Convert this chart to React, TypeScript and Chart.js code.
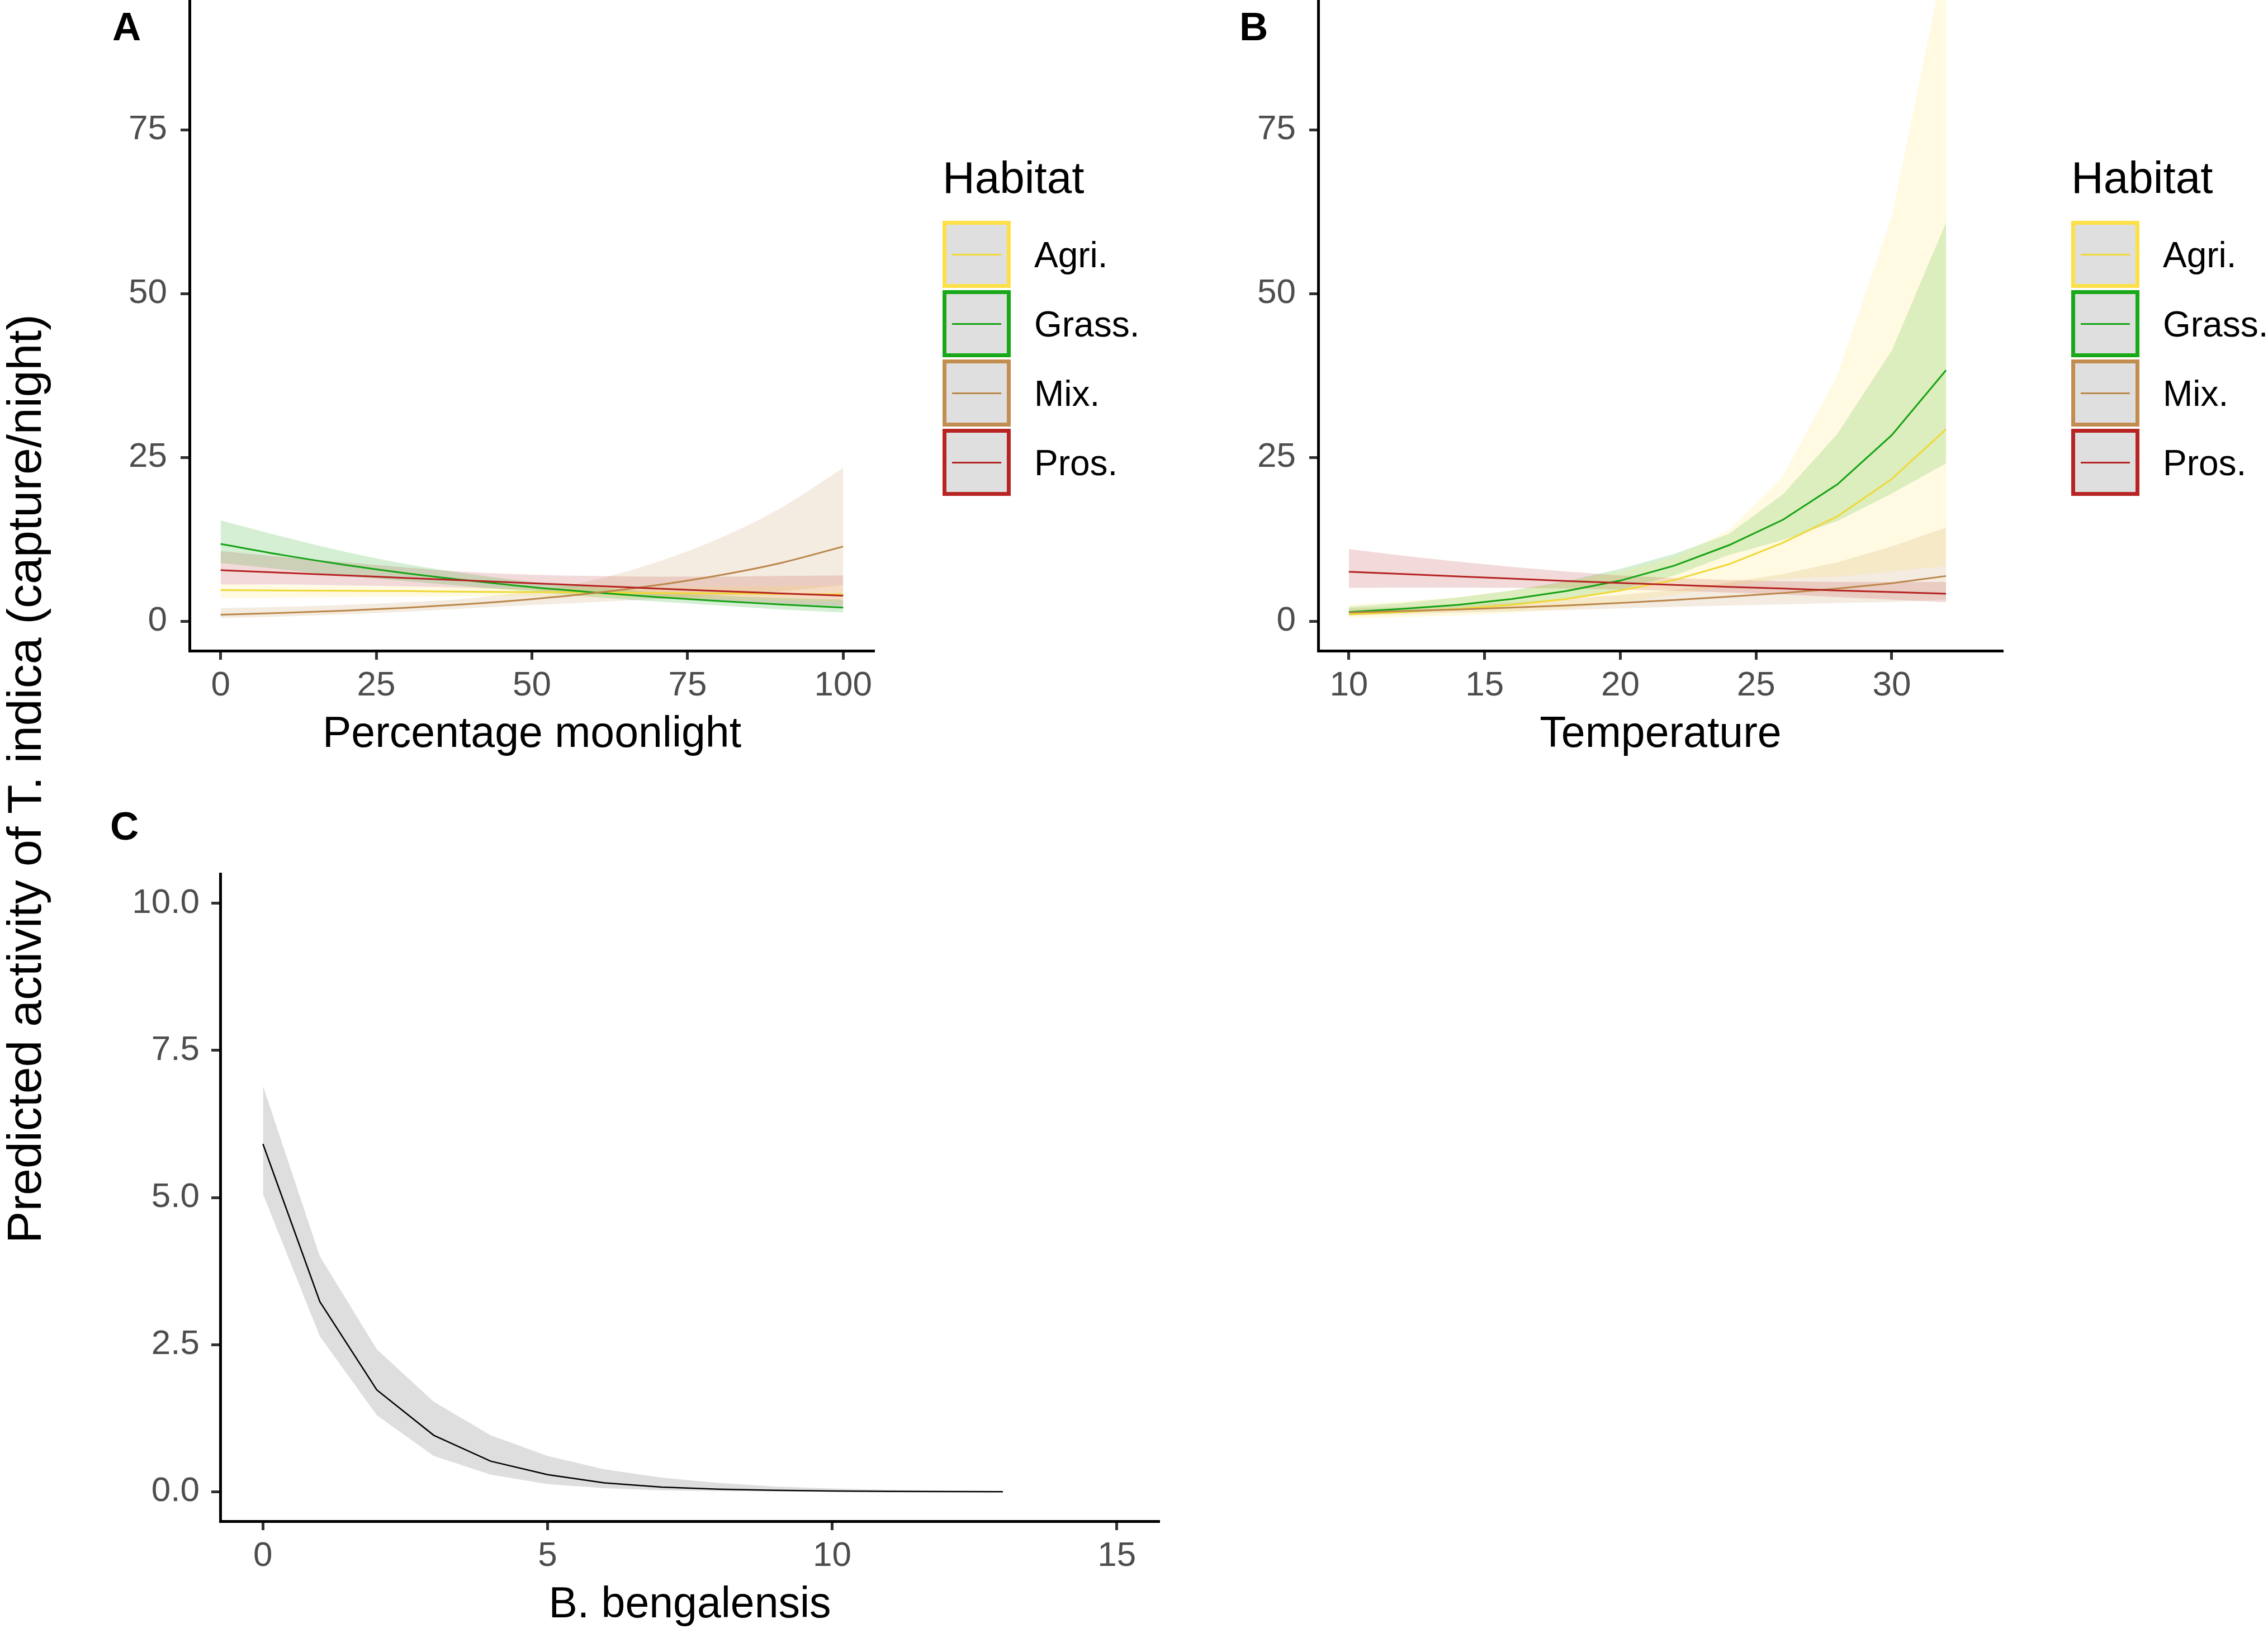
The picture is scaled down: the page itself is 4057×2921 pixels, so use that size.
import { useEffect, useRef } from 'react';
import { Chart, registerables } from 'chart.js';

Chart.register(...registerables);

const FONT = '"Liberation Sans", Arial, Helvetica, sans-serif';

// habitat groups used in panels A and B
const HABITATS = ['Agri.', 'Grass.', 'Mix.', 'Pros.'];
const LINE_COLORS = ['#F0D835', '#14A314', '#BB874A', '#B52222'];
const KEY_COLORS = ['#FDE047', '#18A818', '#C38D50', '#B82424'];
const RIBBON_COLORS = [
  'rgba(253,224,70,0.16)',
  'rgba(22,165,22,0.18)',
  'rgba(192,138,76,0.17)',
  'rgba(184,34,34,0.17)',
];

// panel A: percentage moonlight
const MOON_X = [0, 10, 20, 30, 40, 50, 60, 70, 80, 90, 100];
const MOON_AGRI = [4.75, 4.7, 4.65, 4.6, 4.5, 4.45, 4.4, 4.3, 4.25, 4.15, 4.1];
const MOON_AGRI_LO = [3.5, 3.6, 3.7, 3.75, 3.8, 3.8, 3.7, 3.55, 3.4, 3.2, 3.0];
const MOON_AGRI_HI = [5.6, 5.5, 5.4, 5.3, 5.2, 5.15, 5.15, 5.2, 5.3, 5.4, 5.5];
const MOON_GRASS = [11.8, 10.1, 8.6, 7.3, 6.2, 5.2, 4.4, 3.7, 3.1, 2.55, 2.1];
const MOON_GRASS_LO = [8.9, 7.9, 6.9, 6.1, 5.3, 4.5, 3.7, 3.0, 2.4, 1.8, 1.35];
const MOON_GRASS_HI = [15.4, 12.9, 10.6, 8.7, 7.2, 6.0, 5.2, 4.4, 3.9, 3.55, 3.3];
const MOON_MIX = [1.0, 1.27, 1.63, 2.07, 2.64, 3.37, 4.3, 5.5, 7.0, 8.9, 11.4];
const MOON_MIX_LO = [0.5, 0.73, 1.06, 1.48, 1.99, 2.47, 2.93, 3.36, 3.89, 4.58, 5.55];
const MOON_MIX_HI = [2.0, 2.2, 2.5, 2.9, 3.5, 4.6, 6.3, 9.0, 12.6, 17.3, 23.4];
const MOON_PROS = [7.8, 7.4, 7.0, 6.6, 6.2, 5.8, 5.4, 5.0, 4.6, 4.25, 3.9];
const MOON_PROS_LO = [5.6, 5.6, 5.45, 5.3, 5.1, 4.75, 4.25, 3.7, 3.1, 2.65, 2.3];
const MOON_PROS_HI = [10.7, 9.8, 9.0, 8.2, 7.5, 7.1, 6.9, 6.8, 6.8, 6.9, 7.0];

// panel B: temperature
const TEMP_X = [10, 12, 14, 16, 18, 20, 22, 24, 26, 28, 30, 32];
const TEMP_AGRI = [1.05, 1.4, 1.9, 2.5, 3.4, 4.7, 6.3, 8.7, 12.0, 16.0, 21.7, 29.3];
const TEMP_AGRI_LO = [0.44, 0.65, 0.88, 1.33, 1.9, 2.9, 4.05, 5.4, 6.5, 6.8, 7.6, 8.4];
const TEMP_AGRI_HI = [2.5, 3.0, 3.7, 4.7, 6.0, 7.6, 9.8, 13.9, 22.2, 37.5, 61.7, 102];
const TEMP_GRASS = [1.4, 1.9, 2.5, 3.4, 4.6, 6.2, 8.5, 11.6, 15.5, 20.9, 28.4, 38.3];
const TEMP_GRASS_LO = [0.9, 1.29, 1.74, 2.5, 3.5, 4.8, 7.0, 10.1, 12.4, 15.3, 19.5, 24.1];
const TEMP_GRASS_HI = [2.2, 2.8, 3.6, 4.7, 6.1, 8.0, 10.3, 13.3, 19.4, 28.6, 41.3, 60.8];
const TEMP_MIX = [1.33, 1.55, 1.8, 2.1, 2.4, 2.8, 3.25, 3.75, 4.3, 5.0, 5.8, 6.9];
const TEMP_MIX_LO = [0.88, 1.09, 1.3, 1.52, 1.7, 1.96, 2.2, 2.4, 2.57, 2.8, 2.95, 3.3];
const TEMP_MIX_HI = [2.0, 2.2, 2.5, 2.9, 3.4, 4.0, 4.8, 5.9, 7.2, 9.0, 11.4, 14.3];
const TEMP_PROS = [7.55, 7.2, 6.85, 6.5, 6.15, 5.85, 5.55, 5.25, 5.0, 4.7, 4.45, 4.2];
const TEMP_PROS_LO = [5.1, 5.15, 5.15, 5.1, 5.0, 4.85, 4.65, 4.4, 4.1, 3.7, 3.3, 2.9];
const TEMP_PROS_HI = [11.0, 10.0, 9.1, 8.3, 7.6, 7.0, 6.6, 6.3, 6.1, 6.0, 6.0, 6.0];

// panel C: B. bengalensis
const BENG_X = [0, 1, 2, 3, 4, 5, 6, 7, 8, 9, 10, 11, 12, 13];
const BENG_FIT = [5.91, 3.23, 1.73, 0.96, 0.52, 0.29, 0.15, 0.08, 0.045, 0.025, 0.013, 0.007, 0.004, 0.002];
const BENG_LO = [5.06, 2.64, 1.3, 0.61, 0.29, 0.13, 0.06, 0.025, 0.01, 0.005, 0.002, 0.001, 0.0005, 0.0002];
const BENG_HI = [6.9, 4.0, 2.42, 1.53, 0.96, 0.61, 0.38, 0.24, 0.15, 0.09, 0.055, 0.035, 0.02, 0.012];

// tick labels
const MOON_TICKS = [0, 25, 50, 75, 100];
const TEMP_TICKS = [10, 15, 20, 25, 30];
const BENG_TICKS = [0, 5, 10, 15];
const ACTIVITY_TICKS = [0, 25, 50, 75];
const BENG_Y_TICKS = [0, 2.5, 5, 7.5, 10];

const pts = (xs: number[], ys: number[]) => xs.map((x, i) => ({ x, y: ys[i] }));

function habitatSets(xs: number[], fits: number[][], los: number[][], his: number[][], smooth: boolean) {
  const mode = smooth ? 'monotone' : 'default';
  const sets: any[] = [];
  HABITATS.forEach((name, g) => {
    const lo = sets.length;
    sets.push({
      label: name + ' lower', data: pts(xs, los[g]), borderWidth: 0,
      borderColor: 'rgba(0,0,0,0)', fill: false, cubicInterpolationMode: mode, order: 20,
    });
    sets.push({
      label: name + ' upper', data: pts(xs, his[g]), borderWidth: 0,
      borderColor: 'rgba(0,0,0,0)', backgroundColor: RIBBON_COLORS[g], fill: lo,
      cubicInterpolationMode: mode, order: 20,
    });
  });
  HABITATS.forEach((name, g) => {
    sets.push({
      label: name, data: pts(xs, fits[g]), borderColor: LINE_COLORS[g], borderWidth: 3,
      fill: false, cubicInterpolationMode: mode, order: 10 - g,
    });
  });
  return sets;
}

function bengSets() {
  return [
    { label: 'lower', data: pts(BENG_X, BENG_LO), borderWidth: 0, borderColor: 'rgba(0,0,0,0)', fill: false, order: 20 },
    { label: 'upper', data: pts(BENG_X, BENG_HI), borderWidth: 0, borderColor: 'rgba(0,0,0,0)', backgroundColor: 'rgba(0,0,0,0.13)', fill: 0, order: 20 },
    { label: 'fit', data: pts(BENG_X, BENG_FIT), borderColor: '#000000', borderWidth: 2.5, fill: false, order: 1 },
  ];
}

interface PanelProps {
  left: number; top: number; width: number; height: number;
  yWidth: number; xHeight: number; padTop: number; padRight: number;
  xMin: number; xMax: number; xTicks: number[]; xTitle: string;
  yMin: number; yMax: number; yTicks: number[]; yFmt: (v: number) => string; yPad: number;
  datasets: () => any[];
}

function Panel(p: PanelProps) {
  const canvasRef = useRef<HTMLCanvasElement>(null);

  useEffect(() => {
    if (!canvasRef.current) return;
    const axisCommon = {
      grid: { display: true, drawOnChartArea: false, drawTicks: true, tickLength: 16, tickWidth: 5, tickColor: '#333333' },
      border: { display: true, color: '#000000', width: 5 },
    };
    const chart = new Chart(canvasRef.current, {
      type: 'line',
      data: { datasets: p.datasets() },
      options: {
        responsive: true,
        maintainAspectRatio: false,
        animation: false,
        layout: { padding: { top: p.padTop, right: p.padRight, bottom: 0, left: 0 } },
        elements: { point: { radius: 0 } },
        plugins: {
          legend: { display: false },
          tooltip: { enabled: false },
          filler: { drawTime: 'beforeDatasetsDraw' },
        } as any,
        scales: {
          x: {
            type: 'linear',
            min: p.xMin,
            max: p.xMax,
            ...axisCommon,
            afterBuildTicks: (s: any) => { s.ticks = p.xTicks.map((v) => ({ value: v })); },
            afterFit: (s: any) => { s.height = p.xHeight; s.paddingLeft = 0; s.paddingRight = 0; },
            ticks: {
              autoSkip: false, maxRotation: 0, padding: 10, color: '#4D4D4D',
              font: { family: FONT, size: 62 },
              callback: (v: any) => String(v),
            },
            title: { display: true, text: p.xTitle, color: '#000000', padding: 0, font: { family: FONT, size: 77 } },
          },
          y: {
            type: 'linear',
            min: p.yMin,
            max: p.yMax,
            ...axisCommon,
            afterBuildTicks: (s: any) => { s.ticks = p.yTicks.map((v) => ({ value: v })); },
            afterFit: (s: any) => { s.width = p.yWidth; s.paddingTop = 0; s.paddingBottom = 0; },
            ticks: {
              autoSkip: false, padding: p.yPad, color: '#4D4D4D',
              font: { family: FONT, size: 62 },
              callback: (v: any) => p.yFmt(Number(v)),
            },
          },
        },
      } as any,
    });
    return () => chart.destroy();
  }, []);

  return (
    <div style={{ position: 'absolute', left: p.left, top: p.top, width: p.width, height: p.height }}>
      <canvas ref={canvasRef} />
    </div>
  );
}

function HabitatLegend({ left }: { left: number }) {
  return (
    <>
      <div style={{ position: 'absolute', left, top: 278, fontSize: 80, lineHeight: 1, whiteSpace: 'nowrap' }}>Habitat</div>
      {HABITATS.map((h, i) => (
        <div key={h}>
          <div
            style={{
              position: 'absolute', left, top: 395 + i * 124, width: 122, height: 120,
              boxSizing: 'border-box', border: `7px solid ${KEY_COLORS[i]}`, background: '#DFDFDF',
            }}
          >
            <div style={{ position: 'absolute', left: 10, right: 10, top: 52, height: 3, background: LINE_COLORS[i] }} />
          </div>
          <div style={{ position: 'absolute', left: left + 164, top: 455 + i * 124 - 31, fontSize: 64, lineHeight: 1, whiteSpace: 'nowrap' }}>
            {h}
          </div>
        </div>
      ))}
    </>
  );
}

const letter = (text: string, left: number, top: number) => (
  <div style={{ position: 'absolute', left, top, fontSize: 71, fontWeight: 'bold', lineHeight: 1 }}>{text}</div>
);

export default function App() {
  const intFmt = (v: number) => String(v);
  return (
    <div
      style={{
        position: 'absolute', left: 0, top: 0, width: 4057, height: 2921, overflow: 'hidden',
        background: '#ffffff', fontFamily: FONT, color: '#000000',
      }}
    >
      <Panel
        left={150} top={0} width={1470} height={1361} yWidth={189} xHeight={197} padTop={0} padRight={56}
        xMin={-5} xMax={105} xTicks={MOON_TICKS} xTitle="Percentage moonlight"
        yMin={-4.5} yMax={94.8} yTicks={ACTIVITY_TICKS} yFmt={intFmt} yPad={24}
        datasets={() => habitatSets(
          MOON_X,
          [MOON_AGRI, MOON_GRASS, MOON_MIX, MOON_PROS],
          [MOON_AGRI_LO, MOON_GRASS_LO, MOON_MIX_LO, MOON_PROS_LO],
          [MOON_AGRI_HI, MOON_GRASS_HI, MOON_MIX_HI, MOON_PROS_HI],
          true,
        )}
      />
      <Panel
        left={2170} top={0} width={1470} height={1361} yWidth={188} xHeight={197} padTop={0} padRight={57}
        xMin={8.87} xMax={34.1} xTicks={TEMP_TICKS} xTitle="Temperature"
        yMin={-4.5} yMax={94.8} yTicks={ACTIVITY_TICKS} yFmt={intFmt} yPad={24}
        datasets={() => habitatSets(
          TEMP_X,
          [TEMP_AGRI, TEMP_GRASS, TEMP_MIX, TEMP_PROS],
          [TEMP_AGRI_LO, TEMP_GRASS_LO, TEMP_MIX_LO, TEMP_PROS_LO],
          [TEMP_AGRI_HI, TEMP_GRASS_HI, TEMP_MIX_HI, TEMP_PROS_HI],
          false,
        )}
      />
      <Panel
        left={200} top={1500} width={1950} height={1418} yWidth={194} xHeight={197} padTop={63} padRight={76}
        xMin={-0.75} xMax={15.75} xTicks={BENG_TICKS} xTitle="B. bengalensis"
        yMin={-0.5} yMax={10.5} yTicks={BENG_Y_TICKS} yFmt={(v) => v.toFixed(1)} yPad={21}
        datasets={bengSets}
      />
      <HabitatLegend left={1686} />
      <HabitatLegend left={3705} />
      {letter('A', 201, 12)}
      {letter('B', 2217, 12)}
      {letter('C', 197, 1442)}
      <div
        style={{
          position: 'absolute', left: 43, top: 1393, fontSize: 86, lineHeight: 1, whiteSpace: 'nowrap',
          transform: 'translate(-50%, -50%) rotate(-90deg)',
        }}
      >
        Predicted activity of T. indica (capture/night)
      </div>
    </div>
  );
}
